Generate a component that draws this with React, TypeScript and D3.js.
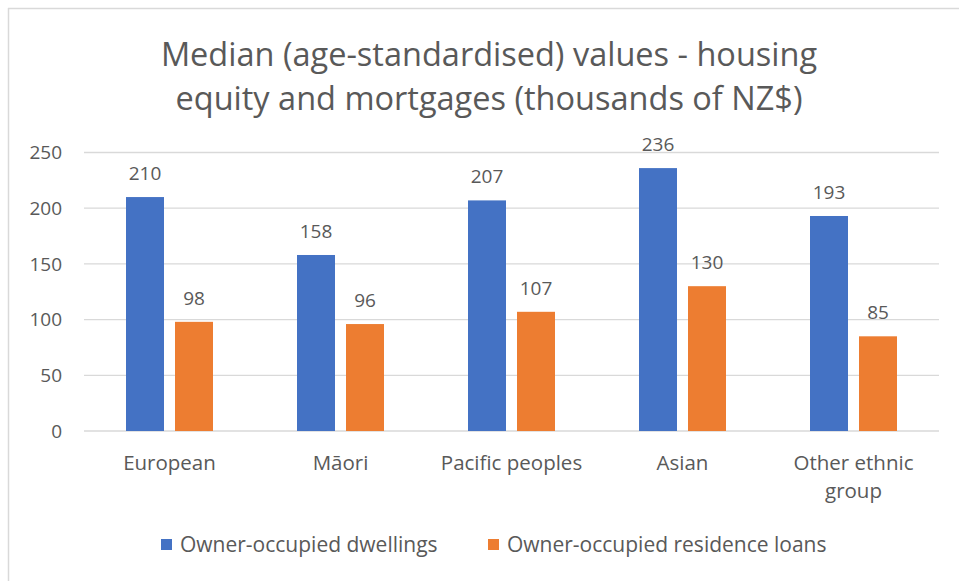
import React from "react";
import * as d3 from "d3";

const categories = ["European", "Māori", "Pacific peoples", "Asian", "Other ethnic group"];
const categoryLines = [["European"], ["Māori"], ["Pacific peoples"], ["Asian"], ["Other ethnic", "group"]];
const dwellings = [210, 158, 207, 236, 193];
const loans = [98, 96, 107, 130, 85];
const seriesNames = ["Owner-occupied dwellings", "Owner-occupied residence loans"];
const yTicks = [0, 50, 100, 150, 200, 250];
const titleLines = ["Median (age-standardised) values - housing", "equity and mortgages (thousands of NZ$)"];

const W = 959, H = 581;
const left = 84, right = 939, top = 152.5, bottom = 431;
const colors = ["#4472C4", "#ED7D31"];
const textColor = "#595959";
const font = "'Open Sans', 'Noto Sans', sans-serif";

export default function App() {
  const x = d3.scaleBand<string>().domain(categories).range([left, right]);
  const outer = (x.bandwidth() - 87) / 2;
  const inner = d3.scaleBand<string>().domain(["0", "1"]).range([outer, outer + 87]).paddingInner(11 / 49);
  const y = d3.scaleLinear().domain([0, 250]).range([bottom, top]);
  const series = [dwellings, loans];

  return (
    <svg width={W} height={H} style={{ position: "absolute", left: 0, top: 0, background: "#fff" }} fontFamily={font}>
      <rect x={0} y={0} width={W} height={H} fill="#fff" />
      <line x1={8} y1={8.5} x2={W} y2={8.5} stroke="#D9D9D9" strokeWidth={1.5} />
      <line x1={8.5} y1={8} x2={8.5} y2={H} stroke="#D9D9D9" strokeWidth={1.5} />
      {titleLines.map((t, i) => (
        <text key={i} x={489} y={66 + i * 44} textAnchor="middle" fontSize={32.5} fill={textColor}>{t}</text>
      ))}
      {yTicks.map((t) => (
        <g key={t}>
          <line x1={left} x2={right} y1={y(t)} y2={y(t)} stroke="#D9D9D9" strokeWidth={1.3} />
          <text x={62} y={y(t)} dy="0.35em" textAnchor="end" fontSize={19} fill={textColor}>{t}</text>
        </g>
      ))}
      {categories.map((c, ci) => (
        <g key={c}>
          {series.map((s, si) => {
            const bx = (x(c) as number) + (inner(String(si)) as number);
            return (
              <g key={si}>
                <rect x={bx} y={y(s[ci])} width={inner.bandwidth()} height={bottom - y(s[ci])} fill={colors[si]} />
                <text x={bx + inner.bandwidth() / 2} y={y(s[ci]) - 17} textAnchor="middle" fontSize={19} fill={textColor}>{s[ci]}</text>
              </g>
            );
          })}
          {categoryLines[ci].map((l, li) => (
            <text key={li} x={(x(c) as number) + x.bandwidth() / 2} y={470 + li * 28} textAnchor="middle" fontSize={20.5} fill={textColor}>{l}</text>
          ))}
        </g>
      ))}
      {seriesNames.map((n, i) => {
        const lx = i === 0 ? 161 : 488;
        return (
          <g key={n}>
            <rect x={lx} y={539} width={11} height={11} fill={colors[i]} />
            <text x={lx + 19} y={552} fontSize={21} fill={textColor}>{n}</text>
          </g>
        );
      })}
    </svg>
  );
}
